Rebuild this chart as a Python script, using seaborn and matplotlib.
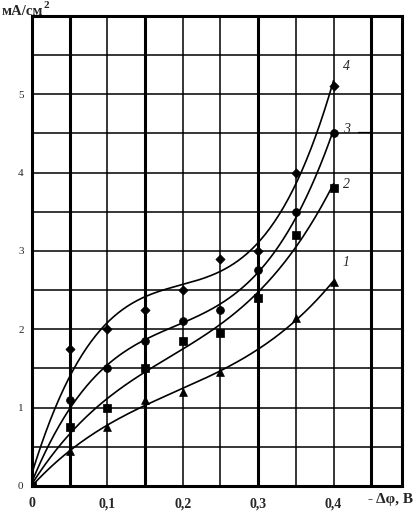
import numpy as np
import pandas as pd
import matplotlib
matplotlib.use("Agg")
import matplotlib.pyplot as plt
import seaborn as sns

sns.set_style("white")
plt.rcParams['font.family'] = ['Liberation Serif', 'DejaVu Serif']

# data
x_vals = [0, 0.05, 0.10, 0.15, 0.20, 0.25, 0.30, 0.35, 0.40]
curve1 = [0, 0.45, 0.75, 1.10, 1.20, 1.45, np.nan, 2.15, 2.60]
curve2 = [0, 0.75, 1.00, 1.50, 1.85, 1.95, 2.40, 3.20, 3.80]
curve3 = [0, 1.10, 1.50, 1.85, 2.10, 2.25, 2.75, 3.50, 4.50]
curve4 = [0, 1.75, 2.00, 2.25, 2.50, 2.90, 3.00, 4.00, 5.10]
curve_names = ["1", "2", "3", "4"]
markers = ["^", "s", "o", "D"]
x_ticks = [0, 0.1, 0.2, 0.3, 0.4]
x_tick_labels = ["0", "0,1", "0,2", "0,3", "0,4"]
y_ticks = [0, 1, 2, 3, 4, 5]

rows = []
for name, vals in zip(curve_names, [curve1, curve2, curve3, curve4]):
    for xv, yv in zip(x_vals, vals):
        rows.append({"x": xv, "y": yv, "curve": name})
df = pd.DataFrame(rows).dropna()

fig = plt.figure(figsize=(4.15, 5.11), dpi=100)
ax = fig.add_axes([0.077, 0.049, 0.892, 0.920])

# grid: thin and thick vertical lines, horizontal every 0.5
thick_x = [0.05, 0.15, 0.30, 0.45]
for xv in np.arange(0.05, 0.46, 0.05):
    lw = 2.2 if any(abs(xv - t) < 1e-6 for t in thick_x) else 1.1
    ax.axvline(xv, color="black", lw=lw, zorder=1)
for yv in np.arange(0.5, 6.0, 0.5):
    ax.axhline(yv, color="black", lw=1.1, zorder=1)

xs = np.linspace(0, 0.4, 200)
for name, m in zip(curve_names, markers):
    sub = df[df["curve"] == name]
    coef = np.polyfit(sub["x"], sub["y"], 3)
    sns.lineplot(x=xs, y=np.polyval(coef, xs), color="black", lw=1.2, ax=ax, zorder=3)
    sns.scatterplot(data=sub, x="x", y="y", marker=m, color="black",
                    s=32 if m != "D" else 22, edgecolor="black", linewidth=0.5, ax=ax, zorder=4)

# curve labels
last = {n: df[df["curve"] == n]["y"].iloc[-1] for n in curve_names}
offsets = {"1": 0.25, "2": 0.05, "3": 0.05, "4": 0.25}
for n in curve_names:
    ax.text(0.412, last[n] + offsets[n], n, fontsize=10, style="italic", va="center", ha="left")
ax.plot([0.433, 0.450], [last["3"] + 0.02, last["3"] + 0.02], color="black", lw=0.9)

ax.set_xlim(0, 0.491)
ax.set_ylim(0, 6.0)
ax.set_xticks(x_ticks)
ax.set_xticklabels(x_tick_labels, fontsize=10, fontweight="bold")
ax.set_yticks(y_ticks)
ax.set_yticklabels([str(v) for v in y_ticks], fontsize=8)
ax.tick_params(axis="y", direction="out", length=4, width=1, pad=2)
ax.tick_params(axis="x", length=0, pad=8)
ax.set_xlabel("")
ax.set_ylabel("")
for sp in ax.spines.values():
    sp.set_linewidth(2.2)
    sp.set_color("black")

fig.text(0.004, 0.978, "мА/см", fontsize=10.5, fontweight="bold", va="center", ha="left")
fig.text(0.106, 0.99, "2", fontsize=8, fontweight="bold", va="center", ha="left")
fig.text(0.996, 0.022, "- Δφ, В", fontsize=11, fontweight="bold", va="center", ha="right")

plt.savefig("out.png", dpi=100)
